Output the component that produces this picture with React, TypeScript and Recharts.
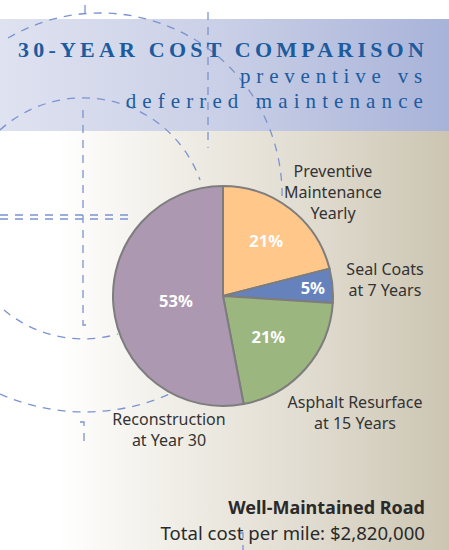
import { Pie, PieChart, Cell } from "recharts";

// slice data, clockwise from 12 o'clock
const categories = [
  "Preventive Maintenance Yearly",
  "Seal Coats at 7 Years",
  "Asphalt Resurface at 15 Years",
  "Reconstruction at Year 30",
];
const shares = [21, 5, 21, 53];
const sliceColors = ["#ffc78a", "#6682bd", "#9bb67f", "#ad98b2"];

// how far out the % label sits, as a fraction of the radius
const labelDepth = [0.64, 0.82, 0.55, 0.43];

const pieData = categories.map((name, i) => ({ name, value: shares[i] }));

const RAD = Math.PI / 180;

const renderPct = (props: any) => {
  const { cx, cy, midAngle, outerRadius, index, value } = props;
  const r = outerRadius * labelDepth[index];
  const x = cx + r * Math.cos(-midAngle * RAD);
  const y = cy + r * Math.sin(-midAngle * RAD);
  return (
    <text
      x={x}
      y={y}
      fill="#ffffff"
      textAnchor="middle"
      dominantBaseline="central"
      fontFamily="'Noto Sans', sans-serif"
      fontWeight="bold"
      fontSize={16.5}
    >
      {`${value}%`}
    </text>
  );
};

const dash = {
  fill: "none",
  stroke: "#7b93cf",
  strokeWidth: 1.3,
  strokeDasharray: "8 7",
};

// text blocks around the pie
const outerLabels = [
  { lines: ["Preventive", "Maintenance", "Yearly"], x: 333, y: 171 },
  { lines: ["Seal Coats", "at 7 Years"], x: 385, y: 269 },
  { lines: ["Asphalt Resurface", "at 15 Years"], x: 355, y: 402 },
  { lines: ["Reconstruction", "at Year 30"], x: 169, y: 419 },
];

export default function App() {
  return (
    <div
      style={{
        position: "absolute",
        left: 0,
        top: 0,
        width: 449,
        height: 550,
        overflow: "hidden",
        background: "#ffffff",
      }}
    >
      {/* header band */}
      <div
        style={{
          position: "absolute",
          left: 0,
          top: 19,
          width: 449,
          height: 112,
          background: "linear-gradient(to right, #dfe2f0, #c9cfe6 50%, #a8b3d9)",
        }}
      />
      {/* body band */}
      <div
        style={{
          position: "absolute",
          left: 0,
          top: 131,
          width: 449,
          height: 419,
          background:
            "linear-gradient(to right, #ffffff 0%, #ffffff 13%, #f2f0ea 35%, #e0dbcf 70%, #ccc5b2 100%)",
        }}
      />

      {/* dashed decoration */}
      <svg width={449} height={550} style={{ position: "absolute", left: 0, top: 0 }}>
        <path d="M 8 38 A 182 182 0 0 1 282 200" {...dash} />
        <path d="M 0 130 A 124 124 0 0 1 200 180" {...dash} />
        <path d="M 4 310 A 124 124 0 0 0 118 334" {...dash} />
        <path d="M 0 394 A 210 210 0 0 0 172 393" {...dash} />
        <path d="M 83 110 L 83 325 L 87 325" {...dash} />
        <path d="M 80 422 L 84 422 L 84 444" {...dash} />
        <path d="M 85 5 L 85 13" {...dash} />
        <path d="M 208 12 L 208 148" {...dash} />
        <path d="M 240 533 L 243 533 L 243 550" {...dash} />
        <path d="M 0 215 L 135 215" {...dash} />
        <path d="M 0 219 L 135 219" {...dash} />
      </svg>

      <div style={{ position: "absolute", left: 0, top: 0 }}>
        <PieChart width={449} height={550} margin={{ top: 0, right: 0, bottom: 0, left: 0 }}>
          <Pie
            data={pieData}
            dataKey="value"
            nameKey="name"
            cx={223}
            cy={296}
            outerRadius={110}
            startAngle={90}
            endAngle={-270}
            stroke="#7d7d7d"
            strokeWidth={2}
            label={renderPct}
            labelLine={false}
            isAnimationActive={false}
          >
            {pieData.map((d, i) => (
              <Cell key={d.name} fill={sliceColors[i]} />
            ))}
          </Pie>
        </PieChart>
      </div>

      {/* titles and annotations */}
      <svg
        width={449}
        height={550}
        style={{ position: "absolute", left: 0, top: 0, pointerEvents: "none" }}
      >
        <g fontFamily="'Liberation Serif', serif" fill="#1c5b9e">
          <text x={428} y={57} textAnchor="end" fontSize={22} fontWeight="bold" letterSpacing={4.2}>
            30-YEAR COST COMPARISON
          </text>
          <text x={428} y={83} textAnchor="end" fontSize={21} letterSpacing={5.8}>
            preventive vs
          </text>
          <text x={429} y={108} textAnchor="end" fontSize={21} letterSpacing={6.1}>
            deferred maintenance
          </text>
        </g>
        <g fontFamily="'Noto Sans', sans-serif" fill="#333333" fontSize={16}>
          {outerLabels.map((l) => (
            <text key={l.lines[0]} textAnchor="middle" dominantBaseline="central">
              {l.lines.map((s, j) => (
                <tspan key={s} x={l.x} y={l.y + j * 21}>
                  {s}
                </tspan>
              ))}
            </text>
          ))}
          <text x={425} y={514} textAnchor="end" fontSize={18} fontWeight="bold" fill="#2a2a2a">
            Well-Maintained Road
          </text>
          <text x={425} y={540} textAnchor="end" fontSize={18.6} fill="#2a2a2a">
            Total cost per mile: $2,820,000
          </text>
        </g>
      </svg>
    </div>
  );
}
